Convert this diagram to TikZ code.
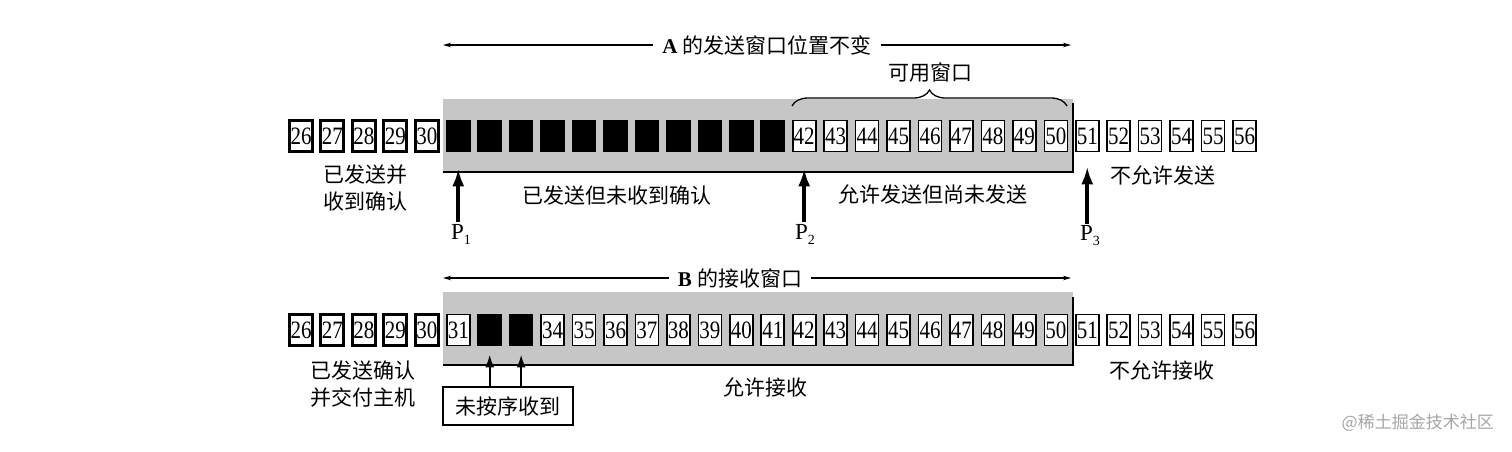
\documentclass[tikz,border=0pt]{standalone}
\usepackage{fontspec}
\setmainfont{Liberation Serif}
\newfontfamily\cjk{Noto Sans CJK SC}
\usetikzlibrary{arrows.meta,decorations.pathreplacing,calc}
\definecolor{winGray}{RGB}{198,198,198}
\definecolor{wmGray}{RGB}{165,165,165}
\newcommand{\numtxt}[1]{\scalebox{0.84}[1]{#1}}
\newcommand{\plabel}[1]{P\raisebox{-5pt}{\fontsize{14}{14}\selectfont #1}}
\begin{document}
\begin{tikzpicture}[x=1pt,y=-1pt,
  cell/.style={draw, line width=1.6pt, fill=white, minimum width=23pt,
    minimum height=31pt, inner sep=0pt, font=\fontsize{25}{25}\selectfont},
  donecell/.style={cell, line width=3pt},
  blackcell/.style={cell, fill=black},
  win/.style={fill=winGray, draw=none, minimum width=630pt, minimum height=73pt, inner sep=0pt},
  winedge/.style={line width=2pt, line join=miter},
  cjktxt/.style={font=\cjk\fontsize{21}{27}\selectfont, align=center, inner sep=0pt},
  title/.style={font=\fontsize{21}{21}\selectfont, fill=white, inner xsep=9pt, inner ysep=2pt},
  dimarrow/.style={line width=1.1pt, -{Stealth[length=8pt,width=4.5pt]}},
  ptr/.style={line width=3.6pt, -{Latex[length=18pt,width=12pt]}},
  ptrthin/.style={line width=2.4pt, -{Latex[length=13pt,width=9pt]}},
  plab/.style={font=\fontsize{23}{23}\selectfont, inner sep=2pt},
  brace/.style={line width=1.3pt, decorate, decoration={brace, amplitude=16pt}}
]
\useasboundingbox (0,0) rectangle (1512,451);

% windows
\node[win] (winA) at (758,135.5) {};
\draw[winedge] (winA.south west) -- (winA.south east) -- ++(0,-69);
\node[win] (winB) at (758,328.5) {};
\draw[winedge] (winB.south west) -- (winB.south east) -- ++(0,-68);

% top row
\foreach \i in {26,...,30} \node[donecell] (t\i) at ({301+(\i-26)*31.45},136) {\numtxt{\i}};
\foreach \i in {31,...,41} \node[blackcell] (t\i) at ({301+(\i-26)*31.45},136) {};
\foreach \i in {42,...,56} \node[cell] (t\i) at ({301+(\i-26)*31.45},136) {\numtxt{\i}};

% bottom row
\foreach \i in {26,...,30} \node[donecell] (b\i) at ({301+(\i-26)*31.45},330) {\numtxt{\i}};
\node[cell] (b31) at ({301+5*31.45},330) {\numtxt{31}};
\foreach \i in {32,33} \node[blackcell] (b\i) at ({301+(\i-26)*31.45},330) {};
\foreach \i in {34,...,56} \node[cell] (b\i) at ({301+(\i-26)*31.45},330) {\numtxt{\i}};

% titles with arrows
\coordinate (aL) at (443,45);
\coordinate (aR) at (1071,45);
\node[title] (atitle) at (767,45) {\textbf{A} {\cjk 的发送窗口位置不变}};
\draw[dimarrow] (atitle.west) -- (aL);
\draw[dimarrow] (atitle.east) -- (aR);

\coordinate (bL) at (443,278);
\coordinate (bR) at (1071,278);
\node[title] (btitle) at (740,278) {\textbf{B} {\cjk 的接收窗口}};
\draw[dimarrow] (btitle.west) -- (bL);
\draw[dimarrow] (btitle.east) -- (bR);

% brace
\coordinate (brL) at (792,106);
\coordinate (brR) at (1067,106);
\draw[brace] (brL) -- (brR);
\node[cjktxt] (avail) at (930,73) {可用窗口};

% top labels
\node[cjktxt] (lab1) at (365,188) {已发送并\\收到确认};
\node[cjktxt] (lab2) at (617,196) {已发送但未收到确认};
\node[cjktxt] (lab3) at (933,194) {允许发送但尚未发送};
\node[cjktxt] (lab4) at (1163,175) {不允许发送};

% pointers
\node[plab] (p1) at (461,234) {\plabel{1}};
\node[plab] (p2) at (805,234) {\plabel{2}};
\node[plab] (p3) at (1090,236) {\plabel{3}};
\draw[ptr] (p1.north -| t31) -- (t31.south) [shorten >=16pt];
\draw[ptr] (p2.north -| t42) -- (t42.south) [shorten >=16pt];
\draw[ptr] (p3.north -| t51) -- (t51.south) [shorten >=14pt];

% bottom labels
\node[cjktxt] (lab5) at (363,384) {已发送确认\\并交付主机};
\node[cjktxt] (lab6) at (765,387) {允许接收};
\node[cjktxt] (lab7) at (1162,370) {不允许接收};

\node[draw, line width=1.3pt, minimum width=130pt, minimum height=38pt, inner sep=0pt,
  font=\cjk\fontsize{21}{21}\selectfont] (oos) at (508,406) {未按序收到};
\draw[ptrthin] (oos.north -| b32) -- (b32.south) [shorten >=8pt];
\draw[ptrthin] (oos.north -| b33) -- (b33.south) [shorten >=8pt];

% watermark
\node[anchor=east, text=wmGray, font=\cjk\fontsize{17}{17}\selectfont, inner sep=0pt] (wm) at (1494,423) {@稀土掘金技术社区};
\end{tikzpicture}
\end{document}
